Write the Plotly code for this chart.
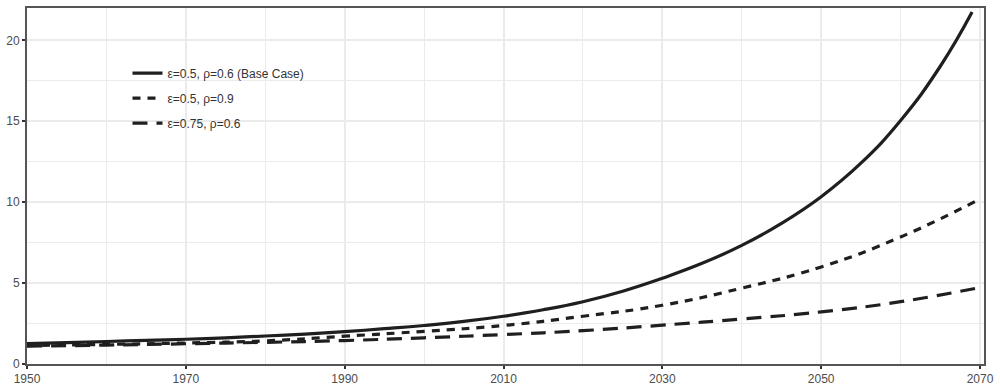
import plotly.graph_objects as go

# ---- data ----
base_years = [1950, 1955, 1960, 1965, 1970, 1975, 1980, 1985, 1990, 1995, 2000, 2005,
              2010, 2015, 2020, 2025, 2030, 2035, 2040, 2045, 2050, 2055, 2060, 2065, 2069]
base_case = [1.26, 1.32, 1.39, 1.46, 1.53, 1.62, 1.73, 1.85, 2.00, 2.18, 2.38, 2.63,
             2.95, 3.35, 3.85, 4.50, 5.30, 6.22, 7.33, 8.69, 10.34, 12.41, 15.05, 18.4, 21.75]

years = [1950, 1960, 1970, 1980, 1990, 2000, 2010, 2020, 2030, 2040, 2050, 2060, 2070]
rho_09 = [1.14, 1.21, 1.30, 1.43, 1.72, 2.02, 2.38, 2.95, 3.63, 4.69, 6.00, 7.85, 10.2]
eps_075 = [1.10, 1.17, 1.25, 1.34, 1.45, 1.62, 1.82, 2.06, 2.40, 2.78, 3.22, 3.85, 4.73]

names = ["ε=0.5, ρ=0.6 (Base Case)", "ε=0.5, ρ=0.9", "ε=0.75, ρ=0.6"]

x_ticks = [1950, 1970, 1990, 2010, 2030, 2050, 2070]
y_ticks = [0, 5, 10, 15, 20]

LINE = "#1f1f1f"
FONT = "Liberation Sans, Arial, sans-serif"
fig = go.Figure()
fig.add_trace(go.Scatter(x=base_years, y=base_case, mode="lines", name=names[0],
                         legendgroup="a",
                         line=dict(color=LINE, width=3.2, shape="spline", smoothing=1.3)))
fig.add_trace(go.Scatter(x=years, y=rho_09, mode="lines", name=names[1],
                         legendgroup="b",
                         line=dict(color=LINE, width=3.2, shape="spline", smoothing=1.3,
                                   dash="8px,7px")))
fig.add_trace(go.Scatter(x=years, y=eps_075, mode="lines", name=names[2],
                         legendgroup="c",
                         line=dict(color=LINE, width=3.2, shape="spline", smoothing=1.3,
                                   dash="15px,9px")))

axis_common = dict(
    showline=True, linecolor="#555555", linewidth=2, mirror=True,
    gridcolor="#ebebeb", gridwidth=2, zeroline=False,
    ticks="outside", ticklen=3, tickwidth=1.5, tickcolor="#333333",
    tickfont=dict(family=FONT, size=12, color="#4d4d4d"),
)

fig.update_xaxes(range=[1950, 2070.5], tickvals=x_ticks, ticktext=[str(v) for v in x_ticks],
                 minor=dict(dtick=10, tick0=1950, showgrid=True, gridcolor="#ebebeb", gridwidth=1, ticks=""),
                 **axis_common)
fig.update_yaxes(range=[0, 22], tickvals=y_ticks, ticktext=[str(v) for v in y_ticks],
                 minor=dict(dtick=2.5, tick0=0, showgrid=True, gridcolor="#ebebeb", gridwidth=1, ticks=""),
                 **axis_common)

fig.update_layout(
    width=1000, height=392,
    margin=dict(l=27, r=11, t=6, b=20),
    plot_bgcolor="white", paper_bgcolor="white",
    showlegend=True,
    legend=dict(x=0.105, y=0.858, xanchor="left", yanchor="top",
                bgcolor="rgba(0,0,0,0)", tracegroupgap=6, itemwidth=30,
                font=dict(family=FONT, size=12, color="#333333")),
)

fig.write_html("out.html")
